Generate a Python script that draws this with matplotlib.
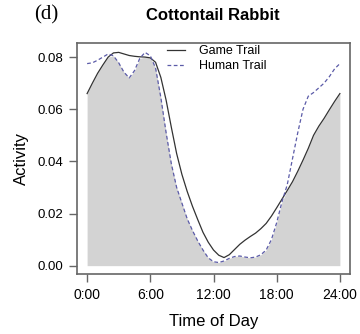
import matplotlib
matplotlib.use("Agg")
import matplotlib.pyplot as plt
import numpy as np

hours = [0.0, 0.5, 1.0, 1.5, 2.0, 2.5, 3.0, 3.5, 4.0, 4.5, 5.0, 5.5, 6.0, 6.5,
         7.0, 7.5, 8.0, 8.5, 9.0, 9.5, 10.0, 10.5, 11.0, 11.5, 12.0, 12.5,
         13.0, 13.5, 14.0, 14.5, 15.0, 15.5, 16.0, 16.5, 17.0, 17.5, 18.0,
         18.5, 19.0, 19.5, 20.0, 20.5, 21.0, 21.5, 22.0, 22.5, 23.0, 23.5, 24.0]

game_trail = [0.0660, 0.0700, 0.0738, 0.0770, 0.0800, 0.0816, 0.0818, 0.0812,
              0.0806, 0.0803, 0.0801, 0.0800, 0.0797, 0.0780, 0.0722, 0.0635,
              0.0530, 0.0430, 0.0350, 0.0285, 0.0228, 0.0177, 0.0128, 0.0090,
              0.0060, 0.0040, 0.0031, 0.0042, 0.0062, 0.0082, 0.0098, 0.0112,
              0.0125, 0.0142, 0.0162, 0.0190, 0.0222, 0.0255, 0.0288, 0.0322,
              0.0362, 0.0405, 0.0450, 0.0500, 0.0535, 0.0565, 0.0598, 0.0630,
              0.0660]

human_trail = [0.0775, 0.0778, 0.0788, 0.0800, 0.0812, 0.0805, 0.0778, 0.0742,
               0.0720, 0.0748, 0.0795, 0.0818, 0.0805, 0.0758, 0.0645, 0.0510,
               0.0390, 0.0300, 0.0240, 0.0180, 0.0135, 0.0095, 0.0060, 0.0030,
               0.0015, 0.0012, 0.0018, 0.0028, 0.0035, 0.0037, 0.0033, 0.0030,
               0.0033, 0.0042, 0.0060, 0.0100, 0.0165, 0.0245, 0.0310, 0.0410,
               0.0510, 0.0600, 0.0650, 0.0664, 0.0682, 0.0700, 0.0725, 0.0755,
               0.0775]

x_ticks = [0, 6, 12, 18, 24]
x_tick_labels = ["0:00", "6:00", "12:00", "18:00", "24:00"]
y_ticks = [0.00, 0.02, 0.04, 0.06, 0.08]
y_tick_labels = ["0.00", "0.02", "0.04", "0.06", "0.08"]

plt.rcParams['font.family'] = ['Liberation Sans', 'DejaVu Sans']

fig = plt.figure(figsize=(3.6, 3.34), dpi=100)
ax = fig.add_axes([77/360, 1-274/334, (350-77)/360, (274-43)/334])

h = np.array(hours)
g = np.array(game_trail)
u = np.array(human_trail)
ax.fill_between(h, 0, np.minimum(g, u), color='#d3d3d3', linewidth=0)
ax.plot(h, g, color='#333333', lw=0.9, label='Game Trail')
ax.plot(h, u, color='#5b5ba8', lw=0.9, ls=(0, (3, 2)), label='Human Trail')

ax.set_xlim(-0.96, 24.96)
ax.set_ylim(-0.0032, 0.0854)
ax.set_xticks(x_ticks)
ax.set_xticklabels(x_tick_labels, fontsize=10)
ax.set_yticks(y_ticks)
ax.set_yticklabels(y_tick_labels, fontsize=9.5)
for s in ax.spines.values():
    s.set_color('#666666')
    s.set_linewidth(1.2)
ax.tick_params(direction='out', length=6, width=1, color='#666666', pad=4)

ax.set_xlabel('Time of Day', fontsize=12, labelpad=9)
ax.set_ylabel('Activity', fontsize=12, labelpad=6)

leg = ax.legend(loc='upper left', bbox_to_anchor=(167/360, 1-45.5/334),
                bbox_transform=fig.transFigure, frameon=False, fontsize=9,
                handlelength=1.45, handletextpad=1.1, labelspacing=0.2,
                borderpad=0, borderaxespad=0)

fig.text(213/360, 1-15/334, 'Cottontail Rabbit', fontsize=12, fontweight='bold',
         ha='center', va='center')
fig.text(46/360, 1-15/334, '(d)', fontsize=15, family=['Liberation Serif'],
         ha='center', va='center')

fig.savefig('out.png', dpi=100)
